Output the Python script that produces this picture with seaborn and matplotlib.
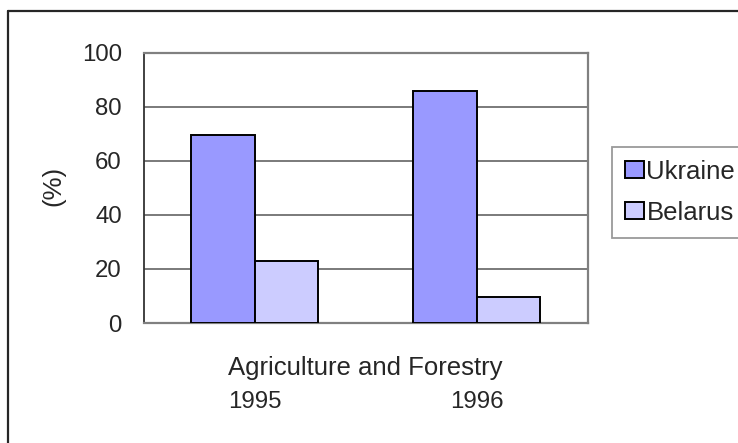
import matplotlib
matplotlib.use("Agg")
import matplotlib.pyplot as plt
from matplotlib.lines import Line2D
import pandas as pd
import seaborn as sns

# Share of agriculture and forestry (%), by year and country
years = ["1995", "1996"]
countries = ["Ukraine", "Belarus"]
ukraine = [69.5, 86.0]
belarus = [23.0, 9.6]
y_ticks = [0, 20, 40, 60, 80, 100]
sector_label = "Agriculture and Forestry"

colors = ["#9999FF", "#CCCCFF"]

df = pd.DataFrame({
    "year": years * 2,
    "country": [countries[0]] * len(years) + [countries[1]] * len(years),
    "value": ukraine + belarus,
})

sns.set_style("white")
plt.rcParams["font.family"] = ["Liberation Sans", "DejaVu Sans"]
FS_NUM = 17.3
FS_TXT = 18.5

W, H = 738, 443
fig = plt.figure(figsize=(W / 100, H / 100), dpi=100)
fig.patch.set_facecolor("white")

# plot area in pixel coordinates
left, right, top, bottom = 143.5, 587.7, 52.7, 323.0
ax = fig.add_axes([left / W, (H - bottom) / H, (right - left) / W, (bottom - top) / H])

sns.barplot(
    data=df, x="year", y="value", hue="country",
    order=years, hue_order=countries, palette=colors,
    saturation=1, width=2 / 3.5, edgecolor="black", linewidth=1.4,
    ax=ax, zorder=3,
)

ax.set_xlim(-0.5, 1.5)
ax.set_ylim(0, 100)
ax.set_yticks(y_ticks)
ax.set_yticklabels([str(t) for t in y_ticks], fontsize=FS_NUM)
ax.set_xticks(range(len(years)))
ax.set_xticklabels(years, fontsize=FS_NUM)
ax.tick_params(axis="x", length=0, pad=49)
ax.tick_params(axis="y", length=6, width=1.3, color="#333333", pad=9.5, direction="out")

ax.yaxis.grid(True, color="#6f6f6f", linewidth=1.3)
ax.set_axisbelow(True)

for side in ["top", "right", "bottom"]:
    ax.spines[side].set_color("#808080")
    ax.spines[side].set_linewidth(1.6)
ax.spines["left"].set_color("#333333")
ax.spines["left"].set_linewidth(1.3)

ax.set_xlabel("")
ax.set_ylabel("(%)", fontsize=FS_TXT)
ax.yaxis.set_label_coords(-0.177, 0.507)

ax.text(0.5, -0.192, sector_label, transform=ax.transAxes,
        ha="center", va="baseline", fontsize=FS_TXT)

leg = ax.legend(
    loc="upper left", bbox_to_anchor=(611.7 / W, (H - 146.7) / H),
    bbox_transform=fig.transFigure, borderaxespad=0,
    frameon=True, fancybox=False, fontsize=FS_TXT, title=None,
    handlelength=0.75, handleheight=0.65, handletextpad=0.1,
    labelspacing=0.67, borderpad=0.5,
)
leg.get_frame().set_edgecolor("#808080")
leg.get_frame().set_linewidth(1.3)
for patch in leg.get_patches():
    patch.set_edgecolor("black")
    patch.set_linewidth(1.4)

# chart border (left and top edges)
fig.add_artist(Line2D([7.5 / W, 7.5 / W], [0, (H - 10.5) / H],
                      color="#262626", linewidth=1.6, transform=fig.transFigure))
fig.add_artist(Line2D([7.5 / W, 1], [(H - 10.5) / H, (H - 10.5) / H],
                      color="#262626", linewidth=1.6, transform=fig.transFigure))

fig.savefig("out.png", dpi=100, facecolor="white")
